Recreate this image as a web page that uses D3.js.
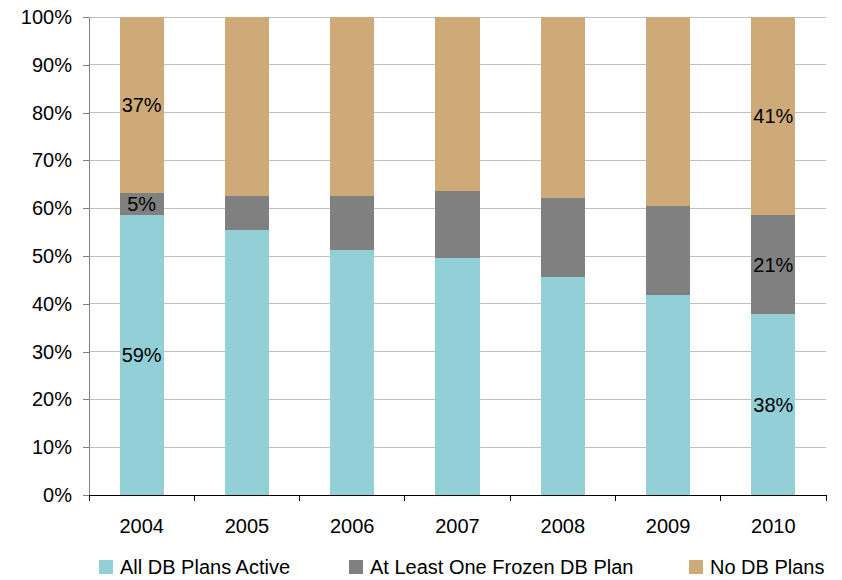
<!DOCTYPE html>
<html>
<head>
<meta charset="utf-8">
<script src="https://cdn.jsdelivr.net/npm/d3@7"></script>
<style>
  html, body { margin: 0; padding: 0; background: #fff; }
  svg { display: block; font-family: "Liberation Sans", Arial, sans-serif; }
</style>
</head>
<body>
<svg id="chart" width="842" height="580"></svg>
<script>
// Share of plan sponsors by DB plan status, 2004–2010 (percent)
const years = ["2004", "2005", "2006", "2007", "2008", "2009", "2010"];
const allActive = [58.6, 55.4, 51.3, 49.6, 45.6, 41.8, 37.8];
const frozen    = [4.6, 7.2, 11.3, 14.0, 16.5, 18.7, 20.8];
const noPlans   = [36.8, 37.4, 37.4, 36.4, 37.9, 39.5, 41.4];
const seriesNames = ["All DB Plans Active", "At Least One Frozen DB Plan", "No DB Plans"];
const seriesColors = ["#93CFD7", "#808080", "#CDAA78"];
const yTicks = [0, 10, 20, 30, 40, 50, 60, 70, 80, 90, 100];
// Segments that carry a value label: [year index, series index]
const labelled = [[0, 0], [0, 1], [0, 2], [6, 0], [6, 1], [6, 2]];

const seriesValues = [allActive, frozen, noPlans];
const keys = ["active", "frozen", "none"];
const rows = years.map((y, i) => ({ year: y, active: allActive[i], frozen: frozen[i], none: noPlans[i] }));

const svg = d3.select("#chart");
const margin = { left: 89, right: 16, top: 17, bottom: 85 };
const W = 842, H = 580;
const fontSize = 20;

const x = d3.scaleBand().domain(years).range([margin.left, W - margin.right]).paddingInner(0.582).paddingOuter(0.291);
const y = d3.scaleLinear().domain([0, 100]).range([H - margin.bottom, margin.top]);

// Gridlines
svg.append("g")
  .selectAll("line").data(yTicks.filter(t => t > 0)).join("line")
  .attr("x1", margin.left).attr("x2", W - margin.right)
  .attr("y1", d => y(d)).attr("y2", d => y(d))
  .attr("stroke", "#c0c0c0").attr("stroke-width", 1).attr("shape-rendering", "crispEdges");

// Stacked bars
const stack = d3.stack().keys(keys)(rows);
svg.append("g").selectAll("g").data(stack).join("g")
  .attr("fill", (d, i) => seriesColors[i])
  .selectAll("rect").data(d => d).join("rect")
  .attr("x", d => x(d.data.year))
  .attr("width", x.bandwidth())
  .attr("y", d => y(d[1]))
  .attr("height", d => y(d[0]) - y(d[1]))
  .attr("shape-rendering", "crispEdges");

// Value labels at segment centres
svg.append("g").selectAll("text").data(labelled).join("text")
  .attr("x", d => x(years[d[0]]) + x.bandwidth() / 2)
  .attr("y", d => { const s = stack[d[1]][d[0]]; return y((s[0] + s[1]) / 2); })
  .attr("dy", "0.35em")
  .attr("text-anchor", "middle")
  .attr("font-size", fontSize)
  .attr("fill", "#000")
  .text(d => Math.round(seriesValues[d[1]][d[0]]) + "%");

// Y axis
const yAxis = svg.append("g")
  .attr("transform", `translate(${margin.left},0)`)
  .call(d3.axisLeft(y).tickValues(yTicks).tickFormat(d => d + "%").tickSize(6).tickSizeOuter(0));
yAxis.select(".domain").attr("stroke", "#808080").attr("shape-rendering", "crispEdges");
yAxis.selectAll(".tick line").attr("stroke", "#808080").attr("shape-rendering", "crispEdges");
yAxis.selectAll(".tick text").attr("font-size", fontSize).attr("font-family", "Liberation Sans, Arial, sans-serif")
  .attr("fill", "#000").attr("x", -17);

// X axis with ticks at band boundaries
const xg = svg.append("g").attr("transform", `translate(0,${y(0)})`);
xg.append("line").attr("x1", margin.left).attr("x2", W - margin.right)
  .attr("stroke", "#000").attr("shape-rendering", "crispEdges");
const step = x.step();
const bounds = d3.range(years.length + 1).map(i => x(years[0]) - step * x.paddingInner() / 2 + i * step);
xg.selectAll("line.tk").data(bounds).join("line").attr("class", "tk")
  .attr("x1", d => d).attr("x2", d => d).attr("y1", 0).attr("y2", 6)
  .attr("stroke", "#000").attr("shape-rendering", "crispEdges");
xg.selectAll("text").data(years).join("text")
  .attr("x", d => x(d) + x.bandwidth() / 2).attr("y", 31)
  .attr("dy", "0.35em").attr("text-anchor", "middle")
  .attr("font-size", fontSize).attr("fill", "#000").text(d => d);

// Legend
const legendX = [99, 349, 689];
const lg = svg.append("g").selectAll("g").data(seriesNames).join("g")
  .attr("transform", (d, i) => `translate(${legendX[i]},567)`);
lg.append("rect").attr("x", 0).attr("y", -7).attr("width", 14).attr("height", 14)
  .attr("fill", (d, i) => seriesColors[i]);
lg.append("text").attr("x", 21).attr("dy", "0.35em").attr("font-size", fontSize).attr("fill", "#000").text(d => d);
</script>
</body>
</html>
